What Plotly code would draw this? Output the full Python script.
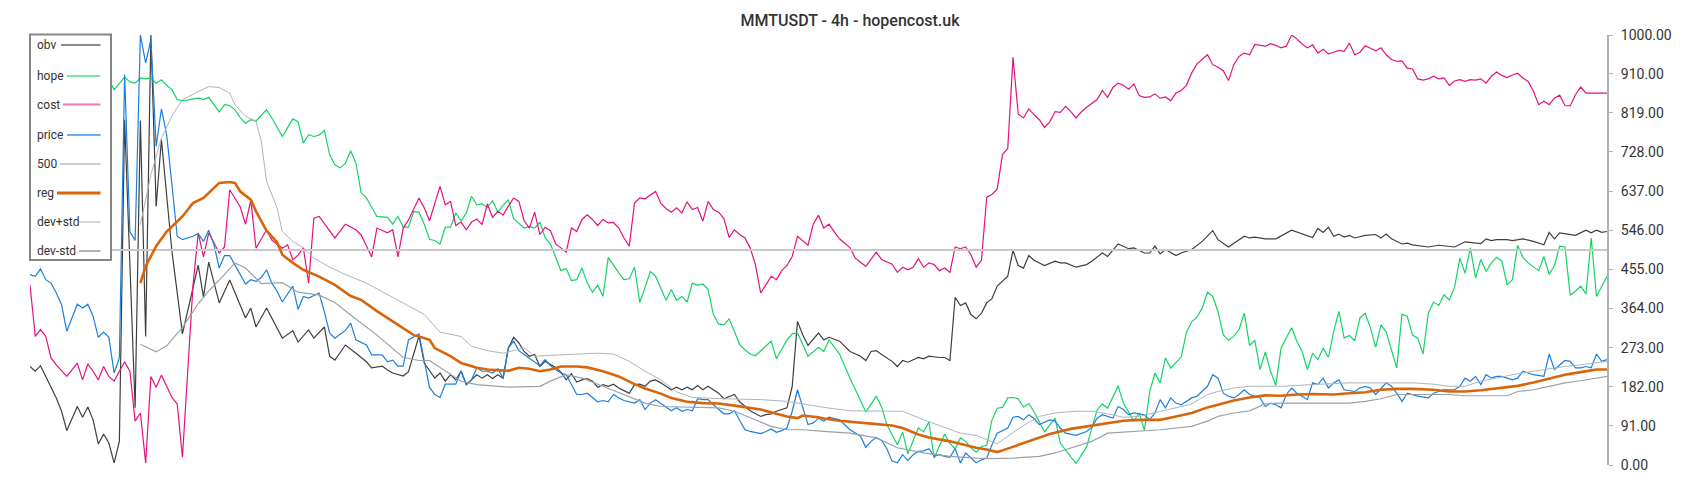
import plotly.graph_objects as go

TITLE = "MMTUSDT - 4h - hopencost.uk"

# bar index -> normalised value (0..1000)
obv = [(0,229),(1,218),(2,231),(3,206),(4,183),(5,156),(6,125),(7,80),(9,136),(10,111),(11,135),(12,105),(13,49),(14,72),(15,51),(16,5),(17,55),(18,803),(20,133),(21,801),(22,299),(23,1000),(24,601),(25,757),(27,497),(29,305),(32,465),(33,391),(34,472),(36,377),(38,430),(41,342),(42,365),(43,321),(45,365),(48,295),(50,312),(51,286),(53,314),(54,295),(56,321),(57,253),(58,244),(60,279),(62,260),(64,240),(65,226),(67,230),(68,221),(69,214),(71,207),(72,217),(74,300),(75,237),(77,202),(78,214),(79,195),(80,210),(81,198),(82,218),(83,187),(84,198),(85,210),(86,202),(87,210),(88,201),(89,210),(90,202),(91,272),(92,297),(93,284),(94,264),(95,253),(96,257),(97,229),(98,241),(99,233),(100,227),(101,216),(102,198),(103,212),(104,193),(105,198),(106,201),(107,195),(108,181),(109,187),(110,183),(111,188),(112,179),(113,173),(114,167),(115,187),(116,188),(117,183),(118,195),(119,198),(120,191),(122,175),(123,181),(124,175),(125,181),(126,175),(127,185),(128,175),(129,183),(130,175),(131,167),(132,154),(134,164),(135,147),(136,136),(137,126),(139,113),(140,117),(141,119),(142,125),(144,133),(145,183),(146,334),(147,303),(148,278),(150,307),(151,291),(152,297),(154,288),(155,276),(156,264),(158,253),(159,243),(160,264),(161,266),(162,257),(164,241),(165,229),(166,243),(167,239),(168,245),(169,250),(170,247),(171,253),(173,250),(174,250),(175,243),(176,390),(177,371),(178,377),(179,350),(180,340),(181,353),(182,377),(183,387),(184,416),(186,439),(187,499),(188,464),(189,458),(190,487),(191,476),(193,464),(195,474),(196,470),(197,470),(199,460),(201,466),(202,474),(204,493),(205,485),(207,514),(209,503),(210,505),(212,493),(213,493),(214,509),(215,491),(216,501),(218,487),(219,493),(221,501),(223,520),(225,545),(226,524),(227,516),(228,507),(231,532),(232,528),(233,530),(235,526),(237,526),(240,546),(244,529),(245,550),(246,541),(247,553),(248,532),(249,537),(250,530),(251,534),(252,528),(254,534),(256,536),(257,528),(258,537),(259,526),(261,514),(262,516),(263,512),(266,507),(268,511),(269,510),(271,507),(273,519),(275,516),(276,515),(277,526),(278,522),(279,524),(281,524),(282,522),(284,526),(286,520),(288,512),(289,541),(290,526),(291,540),(292,538),(294,534),(296,546),(297,540),(298,546),(299,541),(300,543)]

hope = [(14,890),(15,896),(16,873),(18,902),(19,891),(20,888),(21,900),(22,898),(23,900),(24,888),(25,896),(26,883),(27,873),(28,850),(29,847),(31,852),(32,853),(33,850),(34,855),(35,838),(36,821),(37,838),(38,836),(39,826),(40,808),(41,795),(42,803),(43,800),(44,813),(45,826),(46,807),(47,785),(48,764),(50,805),(51,798),(52,749),(53,768),(54,764),(55,767),(56,778),(57,722),(58,698),(59,691),(60,702),(61,731),(62,702),(63,633),(64,621),(65,598),(66,578),(68,576),(69,560),(70,578),(71,553),(72,553),(73,590),(74,588),(75,560),(76,525),(77,522),(78,514),(79,553),(80,553),(81,586),(82,568),(83,586),(84,625),(85,605),(86,607),(87,599),(88,615),(89,588),(90,604),(91,617),(92,573),(93,563),(94,551),(95,555),(96,551),(97,565),(98,528),(99,514),(100,483),(101,452),(102,457),(103,429),(104,431),(105,458),(106,423),(107,402),(108,418),(109,392),(110,483),(111,464),(112,447),(113,431),(114,433),(115,460),(116,378),(117,413),(118,450),(119,439),(120,413),(121,383),(122,408),(123,383),(124,392),(125,379),(126,423),(127,418),(128,421),(129,408),(130,350),(131,328),(132,326),(133,340),(134,311),(135,280),(136,268),(137,258),(138,254),(139,266),(141,288),(142,247),(143,268),(144,291),(145,305),(146,307),(147,280),(148,253),(149,263),(150,274),(151,264),(152,291),(154,258),(156,202),(159,123),(161,160),(162,135),(163,94),(165,47),(166,77),(167,26),(169,86),(170,77),(171,100),(172,16),(174,72),(175,50),(176,38),(177,63),(178,55),(179,40),(180,30),(181,43),(182,46),(183,105),(184,132),(185,134),(186,156),(187,157),(188,154),(189,135),(190,143),(191,124),(193,77),(195,109),(196,51),(198,19),(199,4),(201,42),(202,86),(203,128),(204,142),(205,132),(207,184),(208,144),(210,102),(211,121),(212,81),(213,170),(214,214),(215,191),(216,249),(217,225),(219,251),(220,309),(221,333),(222,344),(223,365),(224,402),(225,392),(226,357),(227,303),(228,290),(229,299),(230,315),(231,353),(232,278),(233,290),(234,222),(235,263),(236,218),(237,185),(238,272),(240,319),(241,288),(242,264),(243,222),(244,260),(245,245),(246,272),(247,250),(248,311),(249,357),(250,295),(251,301),(252,289),(253,342),(254,353),(255,319),(256,274),(257,326),(258,309),(259,268),(260,226),(261,351),(262,346),(263,302),(264,295),(265,258),(266,353),(267,379),(268,371),(269,396),(270,384),(271,413),(272,481),(273,446),(274,505),(275,435),(276,478),(277,450),(278,470),(279,483),(280,474),(281,419),(282,431),(283,511),(284,483),(285,470),(286,460),(287,452),(288,485),(289,443),(290,464),(291,509),(292,507),(293,395),(294,404),(295,416),(296,398),(297,528),(298,392),(300,439)]

cost = [(0,419),(1,299),(2,315),(3,299),(4,249),(5,233),(7,206),(9,237),(10,198),(11,235),(12,218),(13,198),(14,229),(15,206),(16,195),(17,218),(18,240),(19,218),(20,102),(21,121),(22,5),(23,206),(24,181),(25,209),(26,183),(27,157),(28,142),(29,18),(31,416),(32,540),(33,484),(34,540),(36,493),(37,507),(38,640),(40,600),(41,560),(42,616),(43,504),(45,547),(46,523),(48,504),(49,512),(50,477),(51,488),(52,505),(53,423),(54,574),(55,578),(58,528),(60,560),(62,547),(63,535),(64,510),(65,484),(66,551),(68,540),(69,547),(70,484),(71,551),(72,570),(74,621),(75,598),(76,568),(78,648),(79,605),(80,613),(81,557),(82,565),(83,547),(84,565),(85,572),(86,559),(87,607),(88,576),(89,590),(90,581),(91,602),(92,621),(93,613),(94,568),(95,551),(96,588),(97,536),(98,553),(99,545),(100,514),(101,505),(102,495),(103,551),(104,543),(105,571),(106,582),(107,571),(108,557),(109,571),(110,563),(111,564),(112,551),(113,528),(114,509),(115,609),(116,621),(117,619),(118,627),(119,636),(120,609),(121,596),(122,588),(123,598),(124,586),(125,612),(126,594),(127,599),(128,567),(129,613),(130,594),(131,588),(132,573),(133,529),(134,547),(135,536),(136,528),(137,505),(138,466),(139,400),(140,419),(141,439),(142,431),(143,452),(144,464),(145,485),(146,532),(147,522),(148,511),(149,560),(150,581),(151,551),(152,560),(153,542),(154,526),(156,505),(157,481),(159,462),(160,478),(161,495),(162,478),(164,467),(165,448),(166,460),(167,454),(168,460),(169,480),(170,460),(171,470),(172,466),(173,452),(174,458),(175,448),(176,507),(177,503),(178,507),(179,489),(180,460),(181,476),(182,623),(183,629),(184,642),(185,722),(186,736),(187,948),(188,816),(189,807),(190,828),(191,815),(192,803),(193,785),(194,798),(195,822),(196,820),(197,834),(198,822),(199,807),(200,821),(201,832),(202,842),(203,850),(204,871),(205,855),(206,878),(207,888),(208,883),(209,874),(210,886),(211,859),(212,855),(213,856),(214,863),(215,853),(216,856),(217,847),(218,865),(219,871),(220,883),(221,912),(222,933),(223,943),(224,954),(225,931),(226,925),(227,917),(228,894),(229,931),(230,950),(231,958),(232,954),(233,978),(235,974),(236,980),(237,976),(238,970),(239,974),(240,1000),(241,991),(242,979),(243,970),(244,977),(245,958),(246,967),(247,956),(248,960),(249,964),(250,962),(251,981),(252,954),(253,960),(254,975),(255,968),(256,963),(257,970),(258,954),(259,943),(260,939),(261,940),(262,923),(263,921),(264,898),(265,895),(266,898),(267,904),(268,898),(269,900),(270,883),(271,893),(272,896),(273,892),(274,896),(275,895),(276,898),(277,888),(278,904),(279,914),(280,906),(281,901),(282,907),(283,911),(284,900),(285,892),(286,869),(287,838),(288,846),(289,838),(290,853),(291,860),(292,836),(293,835),(294,861),(295,879),(296,865),(298,865),(300,865)]

price = [(0,443),(1,439),(2,456),(3,431),(4,423),(5,400),(6,373),(7,311),(9,374),(10,365),(11,374),(12,346),(13,297),(14,309),(15,297),(16,214),(17,249),(18,908),(19,543),(20,522),(21,1000),(22,935),(23,989),(24,741),(25,828),(26,768),(27,652),(28,532),(29,524),(31,532),(32,538),(33,520),(34,546),(35,512),(36,458),(37,487),(38,487),(39,466),(40,443),(41,421),(42,431),(43,427),(44,436),(45,454),(46,423),(47,404),(48,379),(50,416),(51,362),(52,392),(53,388),(55,400),(56,356),(57,307),(58,295),(60,313),(61,330),(62,291),(64,279),(65,256),(67,256),(68,240),(69,244),(70,230),(71,230),(72,291),(74,305),(75,240),(76,181),(77,164),(78,157),(79,188),(81,188),(82,219),(83,187),(84,198),(85,226),(86,218),(87,218),(88,214),(89,224),(90,202),(91,272),(92,288),(93,266),(94,257),(95,249),(96,241),(97,231),(98,245),(99,231),(100,222),(101,214),(102,210),(103,188),(104,164),(105,164),(106,167),(108,147),(109,150),(110,147),(111,164),(112,156),(113,150),(115,144),(116,152),(117,129),(118,144),(119,152),(120,144),(122,126),(123,133),(124,125),(125,129),(126,126),(127,154),(128,152),(129,152),(130,140),(132,119),(133,119),(134,126),(136,82),(137,78),(139,73),(140,78),(141,84),(142,76),(143,80),(144,86),(145,125),(146,175),(147,133),(148,94),(149,98),(150,109),(151,102),(152,111),(154,105),(155,94),(156,82),(158,67),(159,41),(160,55),(161,64),(162,57),(163,38),(164,9),(165,5),(166,24),(167,10),(168,24),(169,32),(170,33),(171,38),(172,20),(173,24),(174,20),(175,18),(176,38),(177,5),(178,28),(179,16),(180,5),(181,12),(182,16),(183,47),(184,74),(186,86),(187,111),(188,113),(189,105),(190,117),(191,108),(192,94),(194,105),(195,102),(196,86),(197,74),(198,71),(199,69),(201,78),(202,88),(203,109),(204,117),(206,109),(207,136),(208,129),(209,117),(210,121),(212,117),(213,105),(214,121),(215,152),(216,133),(217,156),(218,144),(219,140),(220,148),(221,156),(222,160),(223,171),(224,183),(225,210),(226,202),(227,167),(228,160),(229,156),(230,164),(231,175),(232,164),(234,156),(235,136),(236,144),(237,140),(238,133),(239,164),(240,179),(241,167),(242,160),(243,152),(244,191),(245,187),(246,202),(247,179),(248,191),(249,198),(250,175),(252,171),(253,179),(254,183),(255,179),(256,164),(258,191),(259,183),(260,167),(261,148),(262,167),(263,164),(264,160),(266,156),(267,167),(268,171),(269,175),(271,175),(272,183),(273,202),(274,195),(275,206),(276,187),(277,210),(278,202),(279,206),(280,206),(282,198),(283,202),(284,218),(285,214),(286,210),(288,206),(289,258),(290,222),(291,233),(292,243),(293,241),(294,226),(295,226),(296,229),(297,226),(298,258),(299,241),(300,245)]

level_500 = [(0,500),(300,500)]

reg = [(21,423),(22,462),(24,509),(26,543),(29,578),(31,609),(33,621),(35,644),(36,656),(38,658),(39,656),(40,636),(42,617),(43,590),(45,545),(47,518),(48,489),(50,470),(52,454),(55,438),(58,419),(61,393),(63,384),(66,358),(69,334),(71,319),(73,302),(74,299),(76,291),(77,272),(80,253),(82,237),(85,226),(87,222),(91,219),(93,226),(95,224),(97,218),(99,222),(101,229),(104,229),(106,227),(109,218),(112,206),(115,188),(117,178),(120,166),(122,156),(125,147),(128,144),(131,143),(134,138),(136,134),(139,129),(142,119),(144,113),(146,109),(147,115),(150,111),(151,108),(154,103),(157,99),(161,95),(164,92),(166,86),(169,71),(171,64),(175,55),(178,45),(180,40),(182,36),(184,30),(185,34),(188,47),(191,59),(194,72),(198,84),(202,92),(205,98),(208,103),(211,105),(215,105),(218,113),(221,121),(224,134),(226,140),(229,150),(232,157),(235,162),(238,161),(241,164),(244,165),(248,164),(251,167),(254,169),(257,175),(260,177),(263,177),(267,175),(270,171),(273,171),(276,174),(279,178),(283,184),(286,192),(289,201),(292,210),(295,216),(298,222),(300,222)]

dev_plus = [(21,559),(23,675),(25,760),(27,811),(29,850),(32,867),(34,880),(36,878),(38,865),(39,838),(41,811),(43,799),(44,753),(45,660),(47,598),(48,543),(50,520),(52,505),(54,481),(57,460),(60,443),(64,423),(66,410),(69,391),(72,370),(75,350),(78,309),(82,299),(84,276),(87,266),(90,260),(94,272),(96,253),(99,255),(104,258),(108,260),(111,258),(114,241),(117,218),(120,198),(123,170),(126,157),(132,154),(139,152),(144,148),(146,144),(149,138),(151,134),(156,126),(161,125),(166,125),(170,105),(174,88),(177,74),(180,69),(182,59),(184,49),(186,67),(189,92),(192,113),(195,121),(199,125),(202,125),(205,119),(208,111),(211,113),(214,121),(218,133),(221,142),(224,164),(226,171),(229,179),(232,183),(235,183),(238,183),(244,187),(251,191),(257,191),(263,191),(267,188),(270,183),(273,183),(276,195),(279,202),(282,210),(286,218),(289,224),(292,229),(295,233),(300,241)]

dev_minus = [(21,281),(24,263),(26,277),(29,320),(32,375),(34,405),(36,430),(38,457),(39,470),(41,458),(44,422),(48,424),(51,402),(55,395),(58,378),(61,349),(66,302),(71,250),(74,243),(76,243),(79,218),(82,195),(85,187),(91,181),(97,183),(99,195),(102,210),(105,202),(109,183),(113,164),(117,144),(120,136),(126,134),(131,133),(134,125),(138,105),(141,90),(144,82),(147,82),(151,78),(156,74),(161,63),(165,40),(170,28),(175,20),(180,16),(183,15),(187,16),(192,20),(195,28),(199,43),(202,55),(205,74),(211,78),(215,82),(221,90),(224,102),(226,113),(229,121),(232,126),(235,142),(238,144),(244,144),(251,144),(254,148),(257,154),(260,164),(267,164),(270,164),(273,161),(281,161),(283,171),(286,175),(289,183),(292,191),(295,196),(300,206)]

tick_vals = [0, 91, 182, 273, 364, 455, 546, 637, 728, 819, 910, 1000]

# name, data, line colour, width, legend swatch colour
series = [
    ("obv", obv, "#3f3f3f", 1.2, "#8a8a8a"),
    ("hope", hope, "#14d466", 1.2, "#7ee6aa"),
    ("cost", cost, "#e4127e", 1.2, "#ef78b6"),
    ("price", price, "#1b7fdd", 1.2, "#6aaeee"),
    ("500", level_500, "#c8c8c8", 2, "#cccccc"),
    ("reg", reg, "#d9650b", 2.6, "#d9650b"),
    ("dev+std", dev_plus, "#adb5bd", 1, "#d3d8dc"),
    ("dev-std", dev_minus, "#98a2ab", 1.2, "#a8b2ba"),
]

# the page body has an 8px margin, so the figure is shrunk by that much
OFF = 8
W, H = 1700 - OFF, 500 - OFF
ML, MR, MT, MB = 30 - OFF, 93, 35 - OFF, 35
PW, PH = W - ML - MR, H - MT - MB


# legend helpers: window pixel -> paper fraction
def px(x):
    return (x - OFF - ML) / PW


def py(y):
    return (H - MB - (y - OFF)) / PH


fig = go.Figure()
for name, pts, color, width, _ in series:
    xs, ys = zip(*pts)
    fig.add_trace(go.Scatter(x=xs, y=ys, mode="lines", name=name,
                             line=dict(color=color, width=width),
                             showlegend=False, hoverinfo="skip"))

# hand-made legend: label on the left, line swatch on the right
shapes = [dict(type="rect", xref="paper", yref="paper", layer="above",
               x0=px(30), x1=px(111), y0=py(260), y1=py(34.5),
               fillcolor="white", line=dict(color="#858585", width=2))]
annotations = []
rows = [45, 76, 104.5, 135, 164, 193, 222, 251]
starts = [61, 67, 63, 67, 60, 57, 79, 79]
for (name, _, color, width, swatch), yy, x0 in zip(series, rows, starts):
    annotations.append(dict(text=name, xref="paper", yref="paper",
                            x=px(35), y=py(yy), xanchor="left", yanchor="middle",
                            showarrow=False, font=dict(size=12, color="#333333")))
    shapes.append(dict(type="line", xref="paper", yref="paper", layer="above",
                       x0=px(x0), x1=px(100.5), y0=py(yy), y1=py(yy),
                       line=dict(color=swatch, width=3 if name == "reg" else 2)))

fig.update_layout(
    width=W, height=H,
    margin=dict(l=ML, r=MR, t=MT, b=MB),
    paper_bgcolor="white", plot_bgcolor="white",
    font=dict(family="Roboto, 'Noto Sans', sans-serif", color="#333333"),
    title=dict(text=TITLE, x=(850 - OFF) / W, xref="container", xanchor="center",
               y=1 - (20 - OFF) / H, yref="container", yanchor="middle",
               font=dict(size=16, color="#333333", weight=500)),
    xaxis=dict(range=[0, 300], visible=False, showgrid=False, zeroline=False),
    yaxis=dict(range=[0, 1000], side="right", showgrid=False, zeroline=False,
               showline=True, linecolor="#aab3ba", linewidth=2,
               ticks="outside", ticklen=4, tickcolor="#aab3ba", tickwidth=1,
               tickvals=tick_vals, ticktext=[f"{v:.2f}" for v in tick_vals],
               tickfont=dict(size=14, color="#333333"), ticklabelstandoff=5),
    shapes=shapes,
    annotations=annotations,
)

fig.write_html("out.html", config={"displayModeBar": False})
